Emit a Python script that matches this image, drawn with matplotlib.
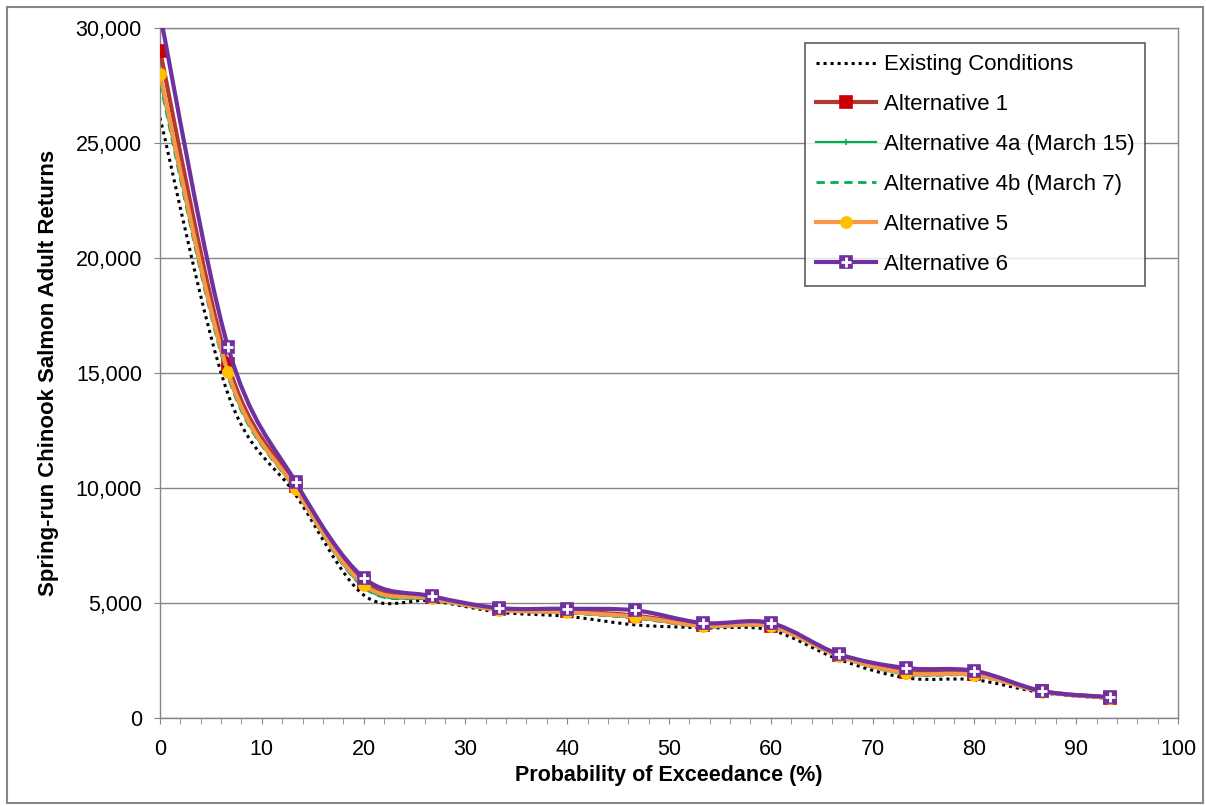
import numpy as np
import matplotlib
matplotlib.use("Agg")
import matplotlib.pyplot as plt
from matplotlib.path import Path
from matplotlib.patches import PathPatch, Rectangle
from matplotlib.lines import Line2D
from matplotlib.ticker import MultipleLocator, FuncFormatter

plt.rcParams['font.family'] = ['Liberation Sans', 'DejaVu Sans']

# probability of exceedance (%) for each ranked year
exceedance = [0, 6.67, 13.33, 20, 26.67, 33.33, 40, 46.67, 53.33, 60, 66.67, 73.33, 80, 86.67, 93.33]

# spring-run chinook adult returns
existing = [26100, 14100, 9700, 5350, 5100, 4600, 4420, 4050, 3920, 3820, 2550, 1740, 1660, 1100, 850]
alt1 = [29000, 15400, 10100, 5900, 5250, 4720, 4650, 4450, 4050, 4020, 2730, 2000, 1920, 1160, 890]
alt4a = [27700, 14900, 9900, 5700, 5150, 4680, 4570, 4350, 3970, 3950, 2680, 1900, 1850, 1140, 870]
alt4b = [27600, 14850, 9880, 5680, 5150, 4670, 4560, 4340, 3960, 3940, 2670, 1890, 1840, 1140, 870]
alt5 = [28000, 15050, 9950, 5800, 5200, 4700, 4600, 4400, 4000, 3980, 2700, 1950, 1880, 1150, 880]
alt6 = [30600, 16150, 10250, 6100, 5300, 4780, 4750, 4680, 4130, 4130, 2780, 2170, 2050, 1170, 910]

labels = ["Existing Conditions", "Alternative 1", "Alternative 4a (March 15)",
          "Alternative 4b (March 7)", "Alternative 5", "Alternative 6"]


def smooth_path(xs, ys):
    # excel style smoothed line - cubic bezier through every point
    x = np.asarray(xs, float)
    y = np.asarray(ys, float)
    n = len(x)
    verts = [(x[0], y[0])]
    codes = [Path.MOVETO]
    for i in range(n - 1):
        i0 = max(i - 1, 0)
        i3 = min(i + 2, n - 1)
        c1 = (x[i] + (x[i + 1] - x[i0]) / 6, y[i] + (y[i + 1] - y[i0]) / 6)
        c2 = (x[i + 1] - (x[i3] - x[i]) / 6, y[i + 1] - (y[i3] - y[i]) / 6)
        verts += [c1, c2, (x[i + 1], y[i + 1])]
        codes += [Path.CURVE4] * 3
    return Path(verts, codes)


fig = plt.figure(figsize=(12.06, 8.06), dpi=100)
ax = fig.add_axes([160 / 1206, 88 / 806, 1018 / 1206, 690 / 806])

# label, data, line colour, width, style, marker, marker size, marker colour
series = [
    (labels[0], existing, 'black', 2.2, (0, (1, 1.3)), None, 0, None),
    (labels[1], alt1, '#B03A33', 3.0, '-', 's', 8.5, '#CC0000'),
    (labels[2], alt4a, '#00B050', 1.6, '-', '+', 5, '#00B050'),
    (labels[3], alt4b, '#00B050', 2.0, (0, (3, 2)), None, 0, None),
    (labels[4], alt5, '#F79646', 3.0, '-', 'o', 8, '#FFC000'),
    (labels[5], alt6, '#7030A0', 3.0, '-', 's', 9, '#7030A0'),
]

handles = []
for z, (lab, vals, col, lw, ls, mk, ms, mc) in enumerate(series):
    ax.add_patch(PathPatch(smooth_path(exceedance, vals), fill=False, edgecolor=col,
                           lw=lw, linestyle=ls, capstyle='butt', zorder=2 + z))
    if mk is not None:
        ax.plot(exceedance, vals, ls='none', marker=mk, ms=ms, mfc=mc, mec=mc,
                mew=1.2, zorder=2.5 + z)
    h = Line2D([], [], color=col, lw=lw, linestyle=ls, marker=mk, ms=ms,
               mfc=mc, mec=mc, mew=1.2)
    if lab == "Alternative 6":
        # white cross inside the purple squares
        ax.plot(exceedance, vals, ls='none', marker='+', ms=7, mew=2,
                color='white', zorder=2.6 + z)
        h = (h, Line2D([], [], ls='none', marker='+', ms=7, mew=2, color='white'))
    handles.append(h)

ax.set_xlim(0, 100)
ax.set_ylim(0, 30000)
ax.xaxis.set_major_locator(MultipleLocator(10))
ax.xaxis.set_minor_locator(MultipleLocator(2))
ax.yaxis.set_major_locator(MultipleLocator(5000))
ax.yaxis.set_major_formatter(FuncFormatter(lambda v, p: f"{v:,.0f}"))

ax.yaxis.grid(True, color='#868686', lw=1)
ax.set_axisbelow(True)
for s in ax.spines.values():
    s.set_color('#868686')
    s.set_linewidth(1)

ax.tick_params(axis='both', which='both', direction='out', length=4, color='#868686',
               labelsize=15.5)
ax.tick_params(axis='x', pad=11)
ax.tick_params(axis='y', pad=9)

ax.set_xlabel("Probability of Exceedance (%)", fontsize=15.5, fontweight='bold', va='center')
ax.set_ylabel("Spring-run Chinook Salmon Adult Returns", fontsize=16, fontweight='bold',
              va='center')
ax.xaxis.set_label_coords(0.5, -0.084)
ax.yaxis.set_label_coords(-0.11, 0.5)

leg = ax.legend(handles, labels, loc='upper right', bbox_to_anchor=(0.968, 0.978),
                borderaxespad=0, fontsize=16, frameon=True, fancybox=False,
                handlelength=2.7, handletextpad=0.35, labelspacing=0.85,
                borderpad=0.5)
leg.get_frame().set_edgecolor('#333333')
leg.get_frame().set_linewidth(1.2)

# grey frame round the whole chart
fig.patches.append(Rectangle((7 / 1206, 3 / 806), 1196 / 1206, 796 / 806,
                             transform=fig.transFigure, fill=False,
                             edgecolor='#868686', lw=1.5))

fig.savefig("out.png", dpi=100)
